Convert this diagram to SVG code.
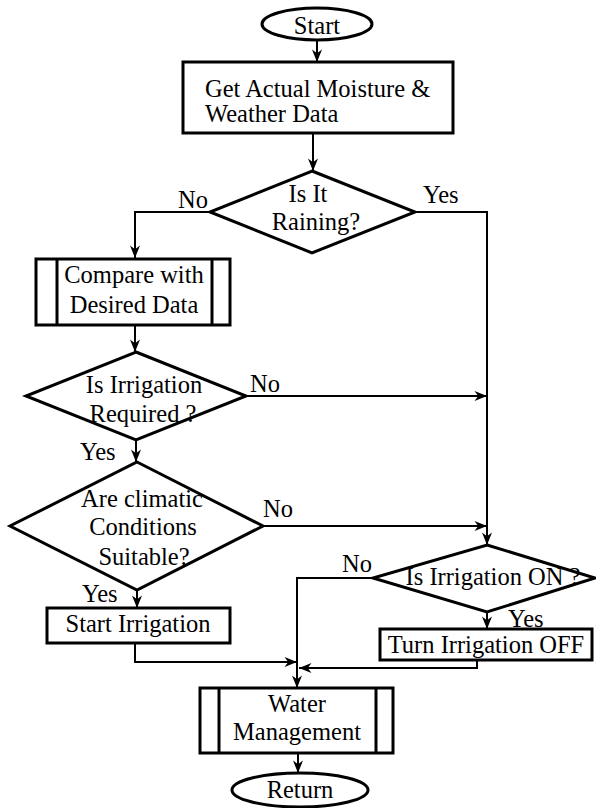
<svg xmlns="http://www.w3.org/2000/svg" width="596" height="808" viewBox="0 0 596 808" font-family="'Liberation Serif', 'DejaVu Serif', 'Times New Roman', serif">
<style>
.s{fill:#fff;stroke:#000;stroke-width:3}
.c{fill:none;stroke:#000;stroke-width:2}
text{font-family:'Liberation Serif','DejaVu Serif','Times New Roman',serif;font-size:24.5px;fill:#000}
.m{text-anchor:middle}
</style>
<defs>
<marker id="a" viewBox="0 0 10 8" refX="10" refY="4" markerWidth="13" markerHeight="10" markerUnits="userSpaceOnUse" orient="auto">
<path d="M0,0 L10,4 L0,8 L3,4 z" fill="#000"/>
</marker>
</defs>
<rect width="596" height="808" fill="#fff"/>
<g id="connectors">
<path class="c" d="M317,40 V62" marker-end="url(#a)"/>
<path class="c" d="M313,133 V171" marker-end="url(#a)"/>
<path class="c" d="M210,212 H135 V258" marker-end="url(#a)"/>
<path class="c" d="M415,212 H487 V545" marker-end="url(#a)"/>
<path class="c" d="M135,325 V352" marker-end="url(#a)"/>
<path class="c" d="M246,396 H487" marker-end="url(#a)"/>
<path class="c" d="M136,440 V462" marker-end="url(#a)"/>
<path class="c" d="M263,526 H487" marker-end="url(#a)"/>
<path class="c" d="M137,590 V608" marker-end="url(#a)"/>
<path class="c" d="M135,643 V662 H297" marker-end="url(#a)"/>
<path class="c" d="M373,578 H297 V688" marker-end="url(#a)"/>
<path class="c" d="M487,612 V629" marker-end="url(#a)"/>
<path class="c" d="M477,660 V668 H299" marker-end="url(#a)"/>
<path class="c" d="M298,753 V773" marker-end="url(#a)"/>
</g>
<g id="start">
<ellipse class="s" cx="317" cy="24" rx="55" ry="16"/>
<text class="m" x="317" y="34">Start</text>
</g>
<g id="get-data">
<rect class="s" x="183" y="62" width="270" height="71"/>
<text x="205" y="97">Get Actual Moisture &amp;</text>
<text x="205" y="122">Weather Data</text>
</g>
<g id="is-raining">
<polygon class="s" points="312,171 415,212 312,253 210,212"/>
<text class="m" x="308" y="202">Is It</text>
<text class="m" x="316" y="230">Raining?</text>
<text x="178" y="208">No</text>
<text x="423" y="203">Yes</text>
</g>
<g id="compare">
<rect class="s" x="36" y="259" width="194" height="66"/>
<path class="s" d="M57,259 V325 M212,259 V325"/>
<text class="m" x="134" y="283">Compare with</text>
<text class="m" x="134" y="313">Desired Data</text>
</g>
<g id="irrigation-required">
<polygon class="s" points="136,352 246,396 136,440 26,396"/>
<text class="m" x="144" y="393">Is Irrigation</text>
<text class="m" x="143" y="422">Required ?</text>
<text x="250" y="392">No</text>
<text x="80" y="460">Yes</text>
</g>
<g id="climatic">
<polygon class="s" points="137,462 263,526 137,590 10,526"/>
<text class="m" x="142" y="507">Are climatic</text>
<text class="m" x="143" y="535">Conditions</text>
<text class="m" x="144" y="565">Suitable?</text>
<text x="263" y="517">No</text>
<text x="82" y="602">Yes</text>
</g>
<g id="start-irrigation">
<rect class="s" x="47" y="608" width="183" height="35"/>
<text class="m" x="138" y="632">Start Irrigation</text>
</g>
<g id="irrigation-on">
<polygon class="s" points="487,545 595,578 487,612 373,578"/>
<text class="m" x="493" y="585">Is Irrigation ON ?</text>
<text x="342" y="572">No</text>
<text x="508" y="627">Yes</text>
</g>
<g id="turn-off">
<rect class="s" x="380" y="629" width="212" height="31"/>
<text class="m" x="486" y="653">Turn Irrigation OFF</text>
</g>
<g id="water-management">
<rect class="s" x="200" y="688" width="193" height="65"/>
<path class="s" d="M219,688 V753 M376,688 V753"/>
<text class="m" x="297" y="712">Water</text>
<text class="m" x="297" y="740">Management</text>
</g>
<g id="return">
<ellipse class="s" cx="300" cy="790" rx="68" ry="17"/>
<text class="m" x="300" y="798">Return</text>
</g>
</svg>
